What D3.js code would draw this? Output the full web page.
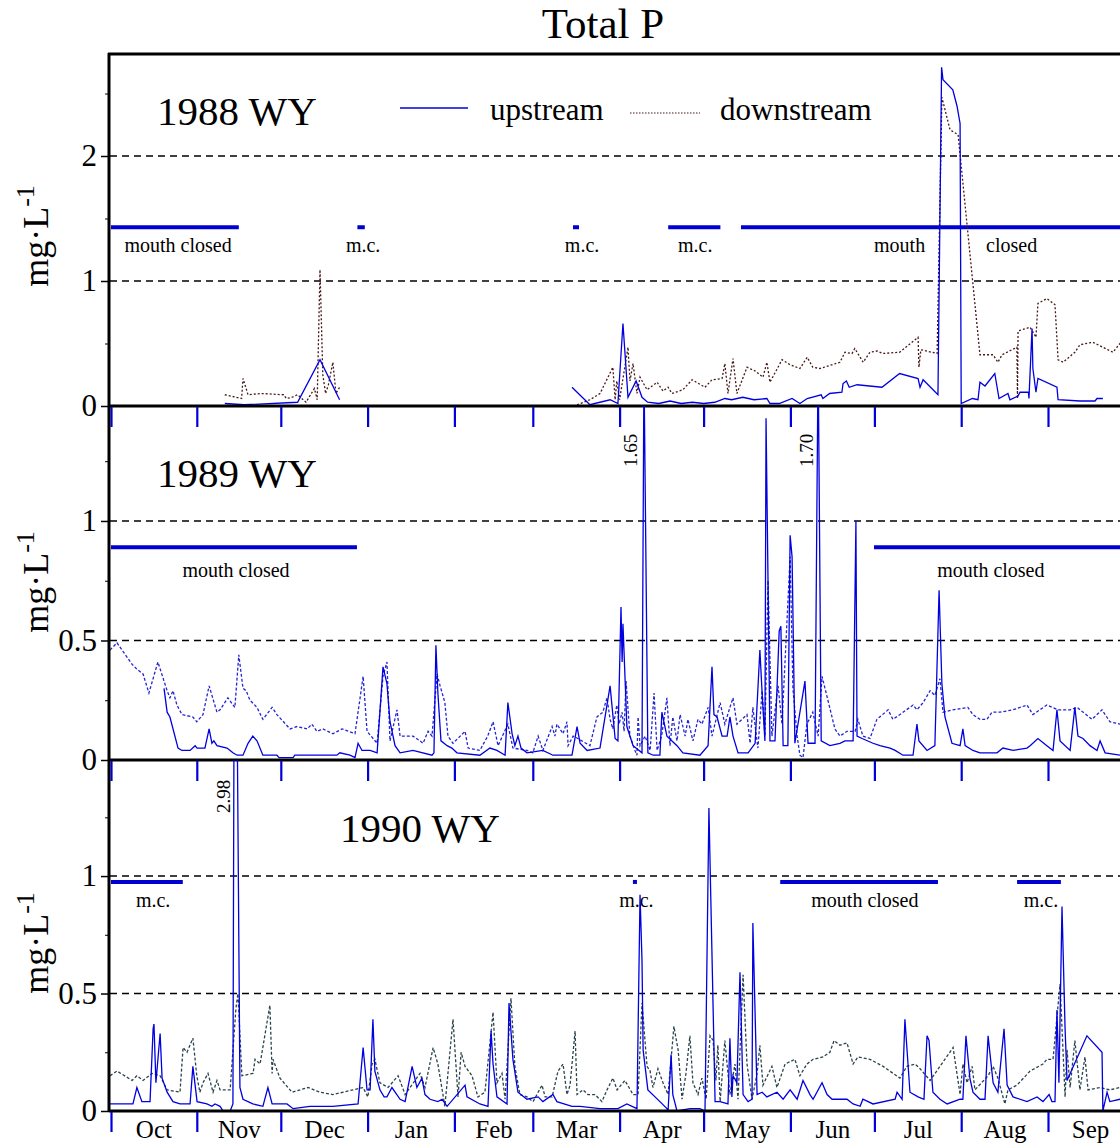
<!DOCTYPE html>
<html><head><meta charset="utf-8">
<script src="https://cdn.jsdelivr.net/npm/d3@7"></script>
<style>
body{margin:0;background:#fff}
svg{display:block}
text{font-family:"Liberation Serif","Times New Roman",serif;fill:#000}
</style>
</head><body>
<svg id="c" width="1120" height="1145"></svg>
<script>
// ---------------- DATA ----------------
// day = days since 1 October (start of water year); value = total P, mg/L; null = gap
const months = ["Oct","Nov","Dec","Jan","Feb","Mar","Apr","May","Jun","Jul","Aug","Sep"];
const monthStartDays = [0,31,61,92,123,151,182,212,243,273,304,335,365];

const yearLabels = ["1988 WY","1989 WY","1990 WY"];
const yTickLabels1988 = [0,1,2];
const yTickLabels1989 = [0,0.5,1];
const yTickLabels1990 = [0,0.5,1];

const up1988 = [[41,0.02],[48,0.01],[67,0.03],[75,0.37],[82,0.05],null,
[165,0.15],[171.4,0.01],[178.6,0.05],[181.4,0.02],[183.2,0.66],[185,0.07],[187.9,0.2],[190,0.07],[192,0.03],[196,0.02],[200,0.04],[204,0.02],[208,0.03],[212,0.02],[216,0.03],[219.6,0.06],[222,0.05],[226,0.07],[230,0.05],[234.6,0.06],[235.7,0.02],[239,0.02],[243.6,0.06],[246.4,0.02],[249,0.06],[254,0.09],[254.6,0.06],[257,0.1],[261.4,0.11],[261.8,0.18],[263,0.2],[264,0.15],[266.8,0.17],[275.7,0.15],[282,0.26],[288.6,0.22],[289.3,0.15],[290.4,0.21],[295.7,0.09],[297,2.71],[297.5,2.61],[301,2.53],[302.5,2.4],[303.6,2.26],[304,0.02],[308,0.06],[310,0.05],[310.7,0.19],[312.5,0.16],[316,0.26],[317.5,0.06],[320.7,0.1],[321.4,0.05],[324.3,0.08],[325,0.11],[328,0.11],[328.2,0.06],[329.3,0.62],[329.6,0.3],[330.7,0.11],[331.4,0.22],[338.2,0.15],[338.6,0.05],[346.4,0.04],[351.8,0.04],[352.5,0.06],[354.6,0.06]];

const dn1988 = [[41,0.09],[47,0.06],[47.5,0.22],[49.3,0.09],[54,0.1],[62,0.09],[63,0.06],[65,0.07],[67,0.09],[70,0.03],[73,0.14],[74,0.05],[75,1.09],[76,0.25],[77,0.1],[78,0.17],[79.6,0.35],[80.7,0.1],[82,0.15],null,
[166.8,0.01],[171.4,0.05],[175,0.1],[179.6,0.31],[180.4,0.05],[181,0.2],[182,0.05],[185,0.47],[185.7,0.2],[186.8,0.34],[188.2,0.1],[189.3,0.23],[191.8,0.13],[195.4,0.19],[197.5,0.12],[199.3,0.15],[200.7,0.1],[204.6,0.13],[207.9,0.21],[212.5,0.15],[215,0.21],[218.6,0.22],[219.6,0.34],[220.7,0.1],[222.5,0.38],[223.9,0.1],[227.5,0.31],[230.4,0.28],[233.2,0.23],[234.6,0.35],[235.7,0.19],[240,0.37],[242.9,0.33],[246.4,0.3],[249,0.39],[251,0.31],[253.6,0.3],[260.7,0.35],[262.5,0.43],[265,0.42],[266,0.46],[269,0.35],[271.4,0.43],[274,0.44],[276,0.42],[282,0.43],[288.6,0.55],[288.9,0.31],[289.6,0.45],[295.4,0.42],[297.1,2.47],[300,2.21],[302.9,2.17],[310.7,0.41],[315.4,0.41],[317.1,0.35],[318.6,0.41],[323.9,0.47],[324.1,0.06],[324.3,0.6],[328.6,0.63],[330.7,0.55],[331.4,0.82],[334.6,0.86],[337.5,0.81],[338.6,0.37],[340.4,0.35],[344.6,0.43],[346.4,0.49],[351,0.51],[358.2,0.43],[360.7,0.5],[364,0.45]];

const up1989 = [[19.3,0.3],[20.4,0.2],[21.4,0.18],[24.3,0.05],[25.7,0.04],[28.6,0.04],[30.4,0.06],[31.1,0.05],[33.9,0.05],[35.4,0.13],[36.4,0.07],[37.1,0.08],[38.2,0.06],[41.8,0.05],[42.9,0.04],[43.9,0.03],[45.4,0.02],[47.5,0.02],[49.3,0.07],[51,0.1],[52.5,0.08],[54.6,0.02],[59.6,0.02],[60.4,0.01],[65.4,0.01],[66,0.02],[81,0.02],[82.1,0.03],[85.7,0.02],[87.5,0.01],[88.6,0.07],[90,0.04],[92.9,0.04],[95.4,0.03],[97.5,0.39],[98.9,0.32],[100,0.16],[101.8,0.06],[103.6,0.03],[108.2,0.04],[115,0.02],[115.7,0.03],[116.4,0.48],[117.1,0.28],[118.2,0.08],[120.4,0.06],[122.1,0.05],[123.9,0.03],[132.1,0.02],[135.7,0.05],[138.2,0.04],[141.1,0.02],[142.1,0.24],[143.6,0.11],[144.6,0.06],[145.7,0.1],[146.8,0.05],[148.9,0.03],[154.6,0.04],[158.2,0.02],[165,0.02],[166.8,0.14],[167.9,0.07],[170.4,0.04],[175,0.05],[178.6,0.31],[180.4,0.09],[181.4,0.08],[182.5,0.64],[182.9,0.41],[183.2,0.57],[184.6,0.14],[186.8,0.06],[190,0.03],[190.7,1.65],[192.1,0.03],[194,0.02],[196.4,0.02],[197.1,0.2],[198.9,0.1],[202.5,0.06],[204.6,0.03],[210.7,0.02],[213.6,0.06],[215,0.39],[215.7,0.19],[216.8,0.18],[218.6,0.1],[220.4,0.1],[221.4,0.18],[222.5,0.1],[224.3,0.03],[227.9,0.03],[230.4,0.07],[232.1,0.46],[232.9,0.28],[233.9,0.08],[234.3,1.43],[235.7,0.08],[237.5,0.08],[239,0.54],[239.6,0.56],[240.4,0.06],[242.1,0.06],[242.9,0.94],[243.6,0.85],[244.6,0.07],[248.2,0.33],[249.3,0.07],[251.8,0.07],[252.9,1.7],[254,0.08],[257.1,0.06],[260.7,0.07],[262.5,0.08],[265.4,0.08],[266.4,1.0],[266.8,0.1],[268.6,0.09],[272.5,0.07],[275,0.06],[278.6,0.05],[280.4,0.04],[283.2,0.02],[286.8,0.02],[288.2,0.15],[288.9,0.08],[291.8,0.04],[294.6,0.06],[296.1,0.71],[297.1,0.32],[298.2,0.18],[300.7,0.07],[303.6,0.06],[304.6,0.13],[305.4,0.06],[308.2,0.04],[310.7,0.03],[316.8,0.03],[318.9,0.05],[322.5,0.04],[327.5,0.05],[328.6,0.06],[331.4,0.09],[334.6,0.06],[336.8,0.04],[338.2,0.21],[339.3,0.08],[342.9,0.04],[344.6,0.22],[345.7,0.1],[347.5,0.09],[350,0.06],[352.5,0.04],[353.6,0.08],[355.4,0.03],[360.7,0.02],[364.6,0.02]];

const dn1989 = [[0,0.46],[2.5,0.49],[7.9,0.4],[9.6,0.38],[11.8,0.36],[13.9,0.28],[17.1,0.41],[20.4,0.29],[21.4,0.26],[22.5,0.29],[23.9,0.23],[25.7,0.19],[29.6,0.18],[31,0.16],[33.2,0.19],[35.4,0.31],[38.2,0.2],[39.3,0.21],[42.1,0.26],[44.6,0.22],[46,0.44],[47.5,0.3],[48.6,0.29],[50,0.25],[52.5,0.22],[54.6,0.17],[57.9,0.22],[59.6,0.19],[64.3,0.13],[66.8,0.14],[70.4,0.13],[72.1,0.15],[73.9,0.12],[76,0.13],[79.6,0.11],[82.9,0.13],[87.5,0.11],[90.4,0.35],[91.8,0.12],[95.4,0.07],[97.5,0.35],[98.9,0.41],[100,0.08],[102.5,0.21],[103.6,0.1],[108.2,0.1],[110.7,0.08],[111.8,0.07],[113.6,0.12],[115,0.1],[116.8,0.36],[117.9,0.31],[119.6,0.24],[120.7,0.1],[122.5,0.07],[126.8,0.12],[127.9,0.05],[132.1,0.04],[134.9,0.1],[136.8,0.16],[138.6,0.06],[142.1,0.15],[143.9,0.05],[148.9,0.04],[151,0.03],[152.9,0.1],[154.6,0.04],[157.9,0.14],[158.9,0.1],[159.6,0.15],[161.8,0.11],[163.2,0.16],[163.6,0.06],[165.4,0.1],[167.1,0.09],[171.4,0.06],[173.9,0.18],[176,0.2],[177.5,0.26],[178.6,0.17],[179.6,0.13],[181,0.23],[181.8,0.15],[182.9,0.2],[183.6,0.12],[184.3,0.33],[185.7,0.1],[187.5,0.04],[188.2,0.02],[188.6,0.18],[189.3,0.06],[191.1,0.1],[192.9,0.04],[194.3,0.28],[195.4,0.04],[197,0.1],[198.2,0.2],[198.9,0.26],[200,0.06],[201,0.18],[202.5,0.08],[203.6,0.19],[205.4,0.1],[206.4,0.17],[208.2,0.08],[210,0.17],[211.4,0.15],[213.6,0.22],[215,0.1],[217.9,0.24],[219.6,0.15],[221.4,0.22],[222.5,0.26],[223.9,0.15],[227.5,0.19],[228.6,0.07],[229.6,0.22],[231.4,0.05],[232.9,0.29],[233.9,0.1],[235,0.75],[236.4,0.1],[238.6,0.31],[240,0.15],[242.9,0.85],[243.9,0.3],[245.4,0.1],[246.4,0.02],[247.5,0.01],[248.9,0.15],[251,0.2],[252.9,0.1],[254.3,0.35],[256.4,0.25],[258.9,0.13],[260.7,0.1],[263.2,0.12],[266.1,0.12],[267.1,0.17],[268.9,0.1],[271.4,0.09],[273.9,0.17],[277.9,0.21],[279.6,0.17],[282.1,0.19],[286.8,0.23],[288.2,0.21],[290.4,0.24],[292.9,0.29],[294.6,0.27],[296.4,0.34],[297.5,0.2],[301,0.21],[306.4,0.22],[308.2,0.19],[310.7,0.17],[313.2,0.17],[315,0.2],[317.9,0.2],[322.5,0.21],[327.5,0.23],[329.6,0.19],[334.6,0.23],[338.6,0.21],[342.9,0.21],[345.4,0.22],[350.7,0.17],[354.3,0.21],[357.1,0.16],[360.7,0.15],[364.6,0.14]];

const up1990 = [[0,0.03],[5.4,0.03],[8.2,0.03],[9.6,0.1],[11.4,0.04],[14.3,0.04],[15.4,0.35],[15.7,0.37],[16.4,0.12],[17.9,0.33],[18.6,0.14],[20.4,0.08],[22.5,0.04],[25,0.03],[28.6,0.03],[29.6,0.19],[31.1,0.04],[34.6,0.03],[36.4,0.02],[37.5,0.03],[39.3,0.02],[40.4,0.0],[42.9,0.0],[43.9,0.03],[44.6,2.98],[46.4,0.1],[47.5,0.05],[51,0.03],[54.6,0.02],[56.4,0.1],[57.9,0.03],[63.2,0.03],[65.4,0.01],[71.4,0.02],[79.6,0.02],[88.6,0.03],[90.4,0.27],[91.8,0.09],[92.9,0.09],[93.9,0.39],[94.6,0.17],[96.4,0.09],[97.9,0.06],[98.9,0.06],[100.7,0.1],[103.6,0.05],[105.4,0.04],[107.9,0.19],[109.6,0.1],[111.4,0.14],[112.5,0.07],[114.3,0.05],[117.1,0.04],[118.6,0.05],[120.4,0.02],[126.8,0.11],[127.5,0.06],[132.1,0.03],[135,0.02],[136.1,0.34],[136.8,0.2],[138.2,0.06],[141.8,0.03],[142.5,0.46],[143.9,0.22],[145.7,0.08],[148.9,0.05],[152.9,0.06],[154.6,0.04],[158.2,0.07],[159.6,0.04],[165,0.02],[167.9,0.02],[175,0.01],[181.4,0.01],[184.6,0.03],[188.2,0.01],[189.3,0.92],[190,0.64],[190.4,0.26],[192.1,0.09],[196.4,0.04],[198.9,0.01],[199.3,0.0],[200.4,0.24],[201,0.07],[202.5,0.0],[207.1,0.01],[210.7,0.01],[212.5,0.0],[213.9,1.29],[214.6,0.89],[216.1,0.04],[217.9,0.04],[220.7,0.03],[221.4,0.31],[222.1,0.06],[222.5,0.15],[223.9,0.12],[225,0.59],[226.1,0.07],[227.9,0.04],[229.3,0.05],[229.6,0.8],[231.1,0.07],[232.9,0.08],[234.6,0.06],[238.2,0.08],[240.4,0.05],[242.9,0.09],[245.4,0.05],[247.5,0.13],[250,0.07],[251.1,0.05],[254.3,0.12],[256.1,0.07],[257.9,0.05],[263.2,0.05],[265.4,0.03],[267.9,0.02],[268.9,0.05],[272.5,0.03],[280.4,0.05],[281.1,0.08],[282.9,0.05],[283.9,0.39],[285.7,0.08],[288.6,0.06],[290.7,0.05],[291.8,0.32],[292.5,0.3],[293.9,0.08],[296.4,0.05],[299,0.03],[303.6,0.05],[304.6,0.05],[305.7,0.32],[307.1,0.14],[308.2,0.08],[310.7,0.05],[312.5,0.05],[313.6,0.32],[315.4,0.12],[317.1,0.08],[319.3,0.35],[320.4,0.11],[322.5,0.06],[327.5,0.04],[331.1,0.06],[333.2,0.04],[335.4,0.07],[336.4,0.04],[337.5,0.04],[338.2,0.43],[338.9,0.12],[339.3,0.39],[340,0.87],[341.1,0.35],[341.8,0.13],[348.9,0.32],[354.3,0.25],[354.6,0.0],[356.1,0.08],[357.1,0.04],[360.7,0.05],[364.6,0.05]];

const dn1990 = [[0,0.15],[2.5,0.17],[7.9,0.13],[9.6,0.15],[11.8,0.13],[15,0.16],[17.9,0.15],[20.4,0.09],[25,0.08],[26.1,0.27],[27.5,0.25],[29.6,0.31],[31,0.15],[32.1,0.08],[33.2,0.12],[35,0.16],[36.8,0.08],[38.2,0.13],[39.3,0.09],[42.9,0.09],[45,0.44],[45.7,0.5],[47.1,0.15],[51.1,0.16],[51.8,0.22],[53.6,0.2],[57.1,0.45],[57.9,0.16],[58.2,0.22],[60.7,0.14],[65,0.08],[70.7,0.1],[75,0.08],[79.6,0.07],[86.8,0.09],[90.4,0.1],[92.1,0.06],[93.6,0.2],[94.6,0.22],[96.4,0.12],[99.3,0.1],[102.9,0.15],[105.4,0.07],[110.7,0.16],[112.5,0.1],[115.4,0.27],[117.1,0.2],[119.6,0.02],[122.5,0.39],[124.3,0.06],[125.4,0.25],[126.8,0.19],[129.3,0.15],[131.4,0.06],[133.9,0.08],[136.8,0.42],[138.2,0.12],[140,0.16],[141.1,0.05],[143.2,0.48],[144.6,0.19],[146.4,0.07],[148.9,0.06],[151.1,0.04],[154.3,0.11],[155.4,0.06],[157.9,0.06],[160,0.17],[161.8,0.2],[163.2,0.07],[164.3,0.11],[166.1,0.34],[166.8,0.07],[168.9,0.09],[170.7,0.07],[173.2,0.07],[175.7,0.04],[177.5,0.09],[179.6,0.14],[181.1,0.09],[183.9,0.13],[186.8,0.07],[188.6,0.07],[190,0.46],[191.8,0.19],[192.9,0.17],[193.9,0.1],[195.7,0.18],[197.5,0.12],[199.3,0.07],[201.4,0.36],[202.9,0.26],[204.3,0.05],[205.7,0.16],[207.1,0.32],[208.2,0.12],[210,0.07],[211.4,0.14],[212.9,0.05],[214.3,0.32],[215.4,0.3],[216.4,0.13],[217.1,0.28],[217.9,0.04],[219.6,0.3],[221.4,0.07],[223.2,0.2],[224.3,0.05],[226.1,0.58],[227.5,0.2],[229.3,0.05],[231.1,0.16],[232.1,0.28],[233.2,0.11],[236.4,0.19],[238.2,0.1],[241.1,0.2],[242.9,0.21],[244.6,0.22],[246.4,0.15],[248.9,0.2],[251.1,0.22],[254.6,0.23],[257.1,0.25],[258.6,0.3],[260.7,0.28],[263.2,0.29],[265.4,0.2],[267.1,0.23],[271.4,0.22],[276.1,0.19],[282.1,0.14],[284.6,0.19],[287.5,0.2],[289.3,0.18],[292.9,0.13],[301.1,0.27],[303.6,0.07],[304.6,0.2],[306.1,0.12],[307.9,0.19],[308.9,0.09],[313.6,0.15],[315.4,0.19],[317.1,0.14],[319.6,0.03],[320.7,0.09],[323.9,0.11],[328.6,0.17],[333.2,0.2],[334.6,0.22],[336.8,0.22],[339.3,0.54],[341.1,0.06],[341.8,0.26],[342.9,0.1],[344.6,0.3],[346.4,0.09],[348.2,0.23],[349.3,0.09],[353.6,0.1],[357.1,0.09],[360.7,0.1],[364.6,0.09]];

// mouth-closed periods [startDay, endDay] and their labels
const closed1988 = [[0,46],[88,91],[165,167.5],[199,218],[225,365]];
const closedText1988 = [["mouth closed",24.3],["m.c.",90.4],["m.c.",168.6],["m.c.",209],["mouth",282],["closed",322]];
const closed1989 = [[0,88.2],[272.5,365]];
const closedText1989 = [["mouth closed",45],["mouth closed",314.6]];
const closed1990 = [[0,26],[186.4,188.2],[239,295.7],[323.6,339.6]];
const closedText1990 = [["m.c.",15.4],["m.c.",188],["mouth closed",269.6],["m.c.",332.5]];

// off-scale peak annotations [text, day, value at text start]
const peaks1988 = [];
const peaks1989 = [["1.65",188.2,1.226],["1.70",251.1,1.226]];
const peaks1990 = [["2.98",42.9,1.268]];

// ---------------- LAYOUT ----------------
const svg = d3.select("#c");
const L = 110, R = 1120;
const x = d3.scaleLinear().domain([0,365]).range([110,1132]);
const FONT = '"Liberation Serif","Times New Roman",serif';
const BLUE = "#0000e0";

const panels = [
 {top:54,bottom:406,yMax:2.816,ticks:yTickLabels1988,minor:[0.5,1.5,2.5],grid:[1,2],
  up:up1988,dn:dn1988,dnColor:"#4a1616",dnDash:"2,2",closed:closed1988,closedText:closedText1988,
  barV:1.43,textV:1.232,peaks:peaks1988,label:yearLabels[0],labelX:157,labelY:125,ylabC:236},
 {top:406,bottom:760,yMax:1.481,ticks:yTickLabels1989,minor:[0.25,0.75,1.25],grid:[0.5,1],
  up:up1989,dn:dn1989,dnColor:"#2424d4",dnDash:"3,2",closed:closed1989,closedText:closedText1989,
  barV:0.89,textV:0.766,peaks:peaks1989,label:yearLabels[1],labelX:157,labelY:487,ylabC:582},
 {top:760,bottom:1111,yMax:1.494,ticks:yTickLabels1990,minor:[0.25,0.75,1.25],grid:[0.5,1],
  up:up1990,dn:dn1990,dnColor:"#29434c",dnDash:"3,2",closed:closed1990,closedText:closedText1990,
  barV:0.975,textV:0.868,peaks:peaks1990,label:yearLabels[2],labelX:340,labelY:842,ylabC:943}
];

// title
svg.append("text").attr("x",603).attr("y",38).attr("text-anchor","middle")
  .attr("font-size",43).text("Total P");

panels.forEach((p,i)=>{
  const y = d3.scaleLinear().domain([0,p.yMax]).range([p.bottom,p.top]);
  const g = svg.append("g");
  const cid = "clip"+i;
  svg.append("clipPath").attr("id",cid).append("rect")
    .attr("x",L).attr("y",p.top).attr("width",R-L).attr("height",p.bottom-p.top);

  // dashed gridlines
  g.selectAll(".grid").data(p.grid).join("line")
    .attr("x1",L).attr("x2",R).attr("y1",d=>y(d)).attr("y2",d=>y(d))
    .attr("stroke","#000").attr("stroke-width",1.6).attr("stroke-dasharray","7,5");

  // mouth-closed bars
  g.selectAll(".bar").data(p.closed).join("line")
    .attr("clip-path",`url(#${cid})`)
    .attr("x1",d=>x(d[0])+1).attr("x2",d=>x(d[1])).attr("y1",y(p.barV)).attr("y2",y(p.barV))
    .attr("stroke","#0000d0").attr("stroke-width",4);
  g.selectAll(".ct").data(p.closedText).join("text")
    .attr("x",d=>x(d[1])).attr("y",y(p.textV)).attr("text-anchor","middle")
    .attr("font-size",20).text(d=>d[0]);

  // series
  const line = d3.line().defined(d=>d!==null).x(d=>x(d[0])).y(d=>y(d[1]));
  g.append("path").datum(p.dn).attr("clip-path",`url(#${cid})`)
    .attr("d",line).attr("fill","none").attr("stroke",p.dnColor)
    .attr("stroke-width",1.3).attr("stroke-dasharray",p.dnDash);
  g.append("path").datum(p.up).attr("clip-path",`url(#${cid})`)
    .attr("d",line).attr("fill","none").attr("stroke",BLUE).attr("stroke-width",1.3);

  // peak annotations (rotated)
  g.selectAll(".pk").data(p.peaks).join("text")
    .attr("transform",d=>`translate(${x(d[1])},${y(d[2])}) rotate(-90)`)
    .attr("font-size",19).text(d=>d[0]);

  // year label
  g.append("text").attr("x",p.labelX).attr("y",p.labelY).attr("font-size",41).text(p.label);

  // zero line
  g.append("line").attr("x1",L-1).attr("x2",R).attr("y1",y(0)).attr("y2",y(0))
    .attr("stroke","#000").attr("stroke-width",3);

  // month boundary ticks (blue, below each panel)
  const xt = g.append("g").attr("transform",`translate(0,${p.bottom+1})`)
    .call(d3.axisBottom(x).tickValues(monthStartDays.slice(0,12)).tickSize(20).tickFormat(""));
  xt.select(".domain").remove();
  xt.selectAll(".tick line").attr("stroke","#0000dd").attr("stroke-width",2.2)
    .attr("transform",d=>d===0?"translate(1,0)":null);

  // y axis major & minor ticks
  const ya = g.append("g").attr("transform",`translate(${L-1},0)`)
    .call(d3.axisLeft(y).tickValues(p.ticks).tickSize(8).tickPadding(4).tickFormat(d3.format("~g")));
  ya.select(".domain").remove();
  ya.selectAll(".tick line").attr("stroke","#000").attr("stroke-width",1.5);
  ya.selectAll(".tick text").attr("font-size",31).attr("font-family",FONT).attr("fill","#000");
  const ym = g.append("g").attr("transform",`translate(${L-1},0)`)
    .call(d3.axisLeft(y).tickValues(p.minor).tickSize(4).tickFormat(""));
  ym.select(".domain").remove();
  ym.selectAll(".tick line").attr("stroke","#000").attr("stroke-width",1);

  // y axis title
  const yl = g.append("text").attr("transform",`translate(48,${p.ylabC}) rotate(-90)`)
    .attr("text-anchor","middle").attr("font-size",36);
  yl.append("tspan").text("mg·L");
  yl.append("tspan").attr("dy",-14).attr("font-size",26).text("-1");
});

// frame: top line and left axis
svg.append("line").attr("x1",L-2).attr("x2",R).attr("y1",54).attr("y2",54)
  .attr("stroke","#000").attr("stroke-width",3);
svg.append("line").attr("x1",L-1).attr("x2",L-1).attr("y1",53).attr("y2",1112)
  .attr("stroke","#000").attr("stroke-width",3);

// month labels
const mids = months.map((m,i)=>(monthStartDays[i]+monthStartDays[i+1])/2);
const xm = svg.append("g").attr("transform","translate(0,1111)")
  .call(d3.axisBottom(x).tickValues(mids).tickSize(0).tickPadding(9)
    .tickFormat((d,i)=>months[i]));
xm.select(".domain").remove();
xm.selectAll("text").attr("font-size",25).attr("font-family",FONT).attr("fill","#000");

// legend
const lg = svg.append("g");
lg.append("line").attr("x1",400).attr("x2",468).attr("y1",108).attr("y2",108)
  .attr("stroke",BLUE).attr("stroke-width",1.3);
lg.append("text").attr("x",490).attr("y",120).attr("font-size",31).text("upstream");
lg.append("line").attr("x1",630).attr("x2",700).attr("y1",113).attr("y2",113)
  .attr("stroke","#4a1616").attr("stroke-width",1.2).attr("stroke-dasharray","1.5,1.5");
lg.append("text").attr("x",720).attr("y",120).attr("font-size",31).text("downstream");
</script>
</body></html>
